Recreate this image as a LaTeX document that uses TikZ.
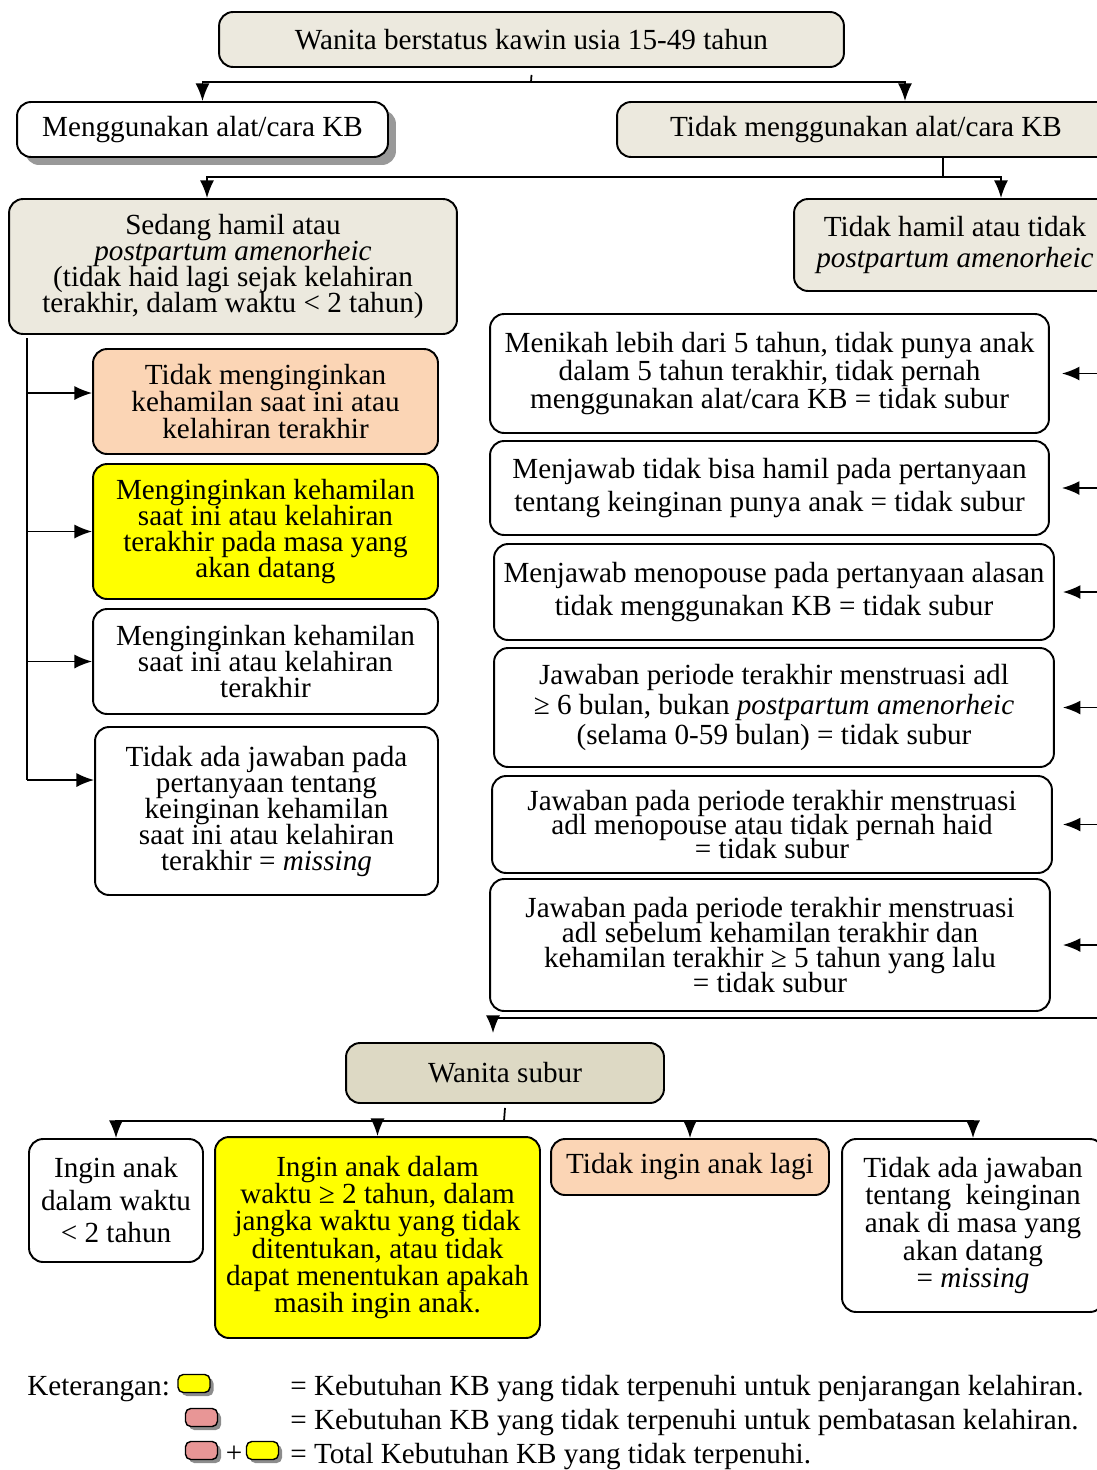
\documentclass[tikz,border=0pt]{standalone}
\usepackage{fontspec}
\setmainfont{Liberation Serif}
\usetikzlibrary{arrows.meta,shadows}
\definecolor{boxgray}{RGB}{236,233,222}
\definecolor{suburgray}{RGB}{221,217,196}
\definecolor{peach}{RGB}{251,213,181}
\definecolor{hiyellow}{RGB}{255,255,0}
\definecolor{legpink}{RGB}{232,150,150}
\newcommand{\fz}[1]{\fontsize{16.6}{#1}\selectfont\lineskiplimit=-20pt\relax}
\tikzstyle{box}=[draw,line width=1.1pt,rounded corners=8pt,align=center,inner sep=0pt]
\tikzstyle{wire}=[draw,line width=1pt]
\tikzstyle{edge}=[wire,->,>={Latex[length=10pt,width=8pt]}]
\tikzstyle{legendbox}=[draw,line width=0.8pt,rounded corners=3pt,minimum width=0.64cm,minimum height=0.36cm,inner sep=0pt,drop shadow={shadow xshift=2pt,shadow yshift=-2pt,fill=black!45,opacity=1}]

\begin{document}
\begin{tikzpicture}[x=0.02cm,y=-0.02cm,font=\fz{14.8}]
      \useasboundingbox (0,0) rectangle (1097,1470);
      \clip (0,0) rectangle (1097,1470);
      \node[box,fill=boxgray,minimum width=12.5cm,minimum height=1.1cm] (top) at (531.5,39.5) {Wanita berstatus kawin usia 15-49 tahun};
      \node[box,fill=white,minimum width=7.42cm,minimum height=1.1cm,drop shadow={shadow xshift=0.16cm,shadow yshift=-0.16cm,fill=black!40,opacity=1}] (use) at (202.5,129.5) {Menggunakan alat/cara KB};
      \node[box,fill=boxgray,minimum width=9.96cm,minimum height=1.1cm] (notuse) at (866,129.5) {Tidak menggunakan alat/cara KB};
      \node[box,fill=boxgray,minimum width=8.96cm,minimum height=2.7cm] (preg) at (233,266.5) {Sedang hamil atau\\ \textit{postpartum amenorheic}\\ (tidak haid lagi sejak kelahiran\\ terakhir, dalam waktu < 2 tahun)};
      \node[box,fill=boxgray,minimum width=6.44cm,minimum height=1.84cm,font=\fz{17.5}] (notpreg) at (955,245) {Tidak hamil atau tidak\\ \textit{postpartum amenorheic}};
      \node[box,fill=peach,minimum width=6.9cm,minimum height=2.1cm,font=\fz{15.3}] (w1) at (265.5,401.5) {Tidak menginginkan\\ kehamilan saat ini atau\\ kelahiran terakhir};
      \node[box,fill=hiyellow,minimum width=6.9cm,minimum height=2.7cm] (w2) at (265.5,531.5) {Menginginkan kehamilan\\ saat ini atau kelahiran\\ terakhir pada masa yang\\ akan datang};
      \node[box,fill=white,minimum width=6.9cm,minimum height=2.1cm] (w3) at (265.5,661.5) {Menginginkan kehamilan\\ saat ini atau kelahiran\\ terakhir};
      \node[box,fill=white,minimum width=6.86cm,minimum height=3.36cm] (w4) at (266.5,811) {Tidak ada jawaban pada\\ pertanyaan tentang\\ keinginan kehamilan\\ saat ini atau kelahiran\\ terakhir = \textit{missing}};
      \node[box,fill=white,minimum width=11.18cm,minimum height=2.38cm,font=\fz{16}] (b1) at (769.5,373.5) {Menikah lebih dari 5 tahun, tidak punya anak\\ dalam 5 tahun terakhir, tidak pernah\\ menggunakan alat/cara KB = tidak subur};
      \node[box,fill=white,minimum width=11.18cm,minimum height=1.88cm,font=\fz{19.3}] (b2) at (769.5,488) {Menjawab tidak bisa hamil pada pertanyaan\\ tentang keinginan punya anak = tidak subur};
      \node[box,fill=white,minimum width=11.2cm,minimum height=1.92cm,font=\fz{19.3}] (b3) at (774,592) {Menjawab menopouse pada pertanyaan alasan\\ tidak menggunakan KB = tidak subur};
      \node[box,fill=white,minimum width=11.2cm,minimum height=2.38cm,font=\fz{17.3}] (b4) at (774,707.5) {Jawaban periode terakhir menstruasi adl\\ ≥ 6 bulan, bukan \textit{postpartum amenorheic}\\ (selama 0-59 bulan) = tidak subur};
      \node[box,fill=white,minimum width=11.2cm,minimum height=1.94cm,font=\fz{13.8}] (b5) at (772,824.5) {Jawaban pada periode terakhir menstruasi\\ adl menopouse atau tidak pernah haid\\ = tidak subur};
      \node[box,fill=white,minimum width=11.2cm,minimum height=2.64cm,font=\fz{14.4}] (b6) at (770,945) {Jawaban pada periode terakhir menstruasi\\ adl sebelum kehamilan terakhir dan\\ kehamilan terakhir ≥ 5 tahun yang lalu\\ = tidak subur};
      \node[box,fill=suburgray,minimum width=6.36cm,minimum height=1.2cm] (subur) at (505,1073) {Wanita subur};
      \node[box,fill=white,minimum width=3.48cm,minimum height=2.46cm,font=\fz{18.5}] (c1) at (116,1200.5) {Ingin anak\\ dalam waktu\\ < 2 tahun};
      \node[box,fill=hiyellow,minimum width=6.5cm,minimum height=4.02cm,font=\fz{15.4}] (c2) at (377.5,1237.5) {Ingin anak dalam\\ waktu ≥ 2 tahun, dalam\\ jangka waktu yang tidak\\ ditentukan, atau tidak\\ dapat menentukan apakah\\ masih ingin anak.};
      \node[box,fill=peach,minimum width=5.56cm,minimum height=1.12cm] (c3) at (690,1167) {Tidak ingin anak lagi};
      \node[box,fill=white,minimum width=5.24cm,minimum height=3.46cm,font=\fz{15.7}] (c4) at (973,1225.5) {Tidak ada jawaban\\ tentang \ keinginan\\ anak di masa yang\\ akan datang\\ = \textit{missing}};
      \coordinate (j1) at (531,82);
      \draw[wire] ([yshift=-0.14cm]top.south) -- (j1);
      \draw[edge] (j1) -| (use.north);
      \draw[edge] (j1) -| ([xshift=0.78cm]notuse.north);
      \coordinate (j2) at (943,177);
      \draw[wire] ([xshift=1.54cm]notuse.south) -- (j2);
      \draw[edge] (j2) -| ([xshift=-0.52cm]preg.north);
      \draw[edge] (j2) -| ([xshift=0.92cm]notpreg.north);
      \coordinate (a1) at ([yshift=0.17cm]w1.west);
      \coordinate (a4) at ([yshift=0.62cm]w4.west);
      \coordinate (lt) at (27,338);
      \draw[wire] (lt) -- (lt |- a4);
      \draw[edge] (lt |- a1) -- (a1);
      \draw[edge] (lt |- w2.west) -- (w2.west);
      \draw[edge] (lt |- w3.west) -- (w3.west);
      \draw[edge] (lt |- a4) -- (a4);
      \coordinate (rt) at (1104,291);
      \coordinate (rb) at (1104,1018);
      \draw[wire] (rt) -- (rb);
      \draw[edge,shorten >=0.24cm] (rt |- b1.east) -- (b1.east);
      \draw[edge,shorten >=0.24cm] (rt |- b2.east) -- (b2.east);
      \draw[edge,shorten >=0.16cm] (rt |- b3.east) -- (b3.east);
      \draw[edge,shorten >=0.16cm] (rt |- b4.east) -- (b4.east);
      \draw[edge,shorten >=0.2cm] (rt |- b5.east) -- (b5.east);
      \draw[edge,shorten >=0.24cm] (rt |- b6.east) -- (b6.east);
      \draw[edge,shorten >=0.18cm] (rb) -| ([xshift=-0.24cm]subur.north);
      \coordinate (j3) at (504,1121);
      \draw[wire] ([yshift=-0.08cm]subur.south) -- (j3);
      \draw[edge] (j3) -| (c1.north);
      \draw[edge] (j3) -| (c2.north);
      \draw[edge] (j3) -| (c3.north);
      \draw[edge] (j3) -| (c4.north);
      \node[anchor=base west,inner sep=0pt] (ket) at (27,1395) {Keterangan:};
      \node[legendbox,fill=hiyellow] (ky1) at (194,1383.5) {};
      \node[legendbox,fill=legpink] (kp1) at (201.5,1417.5) {};
      \node[legendbox,fill=legpink] (kp2) at (201.5,1450.5) {};
      \node[inner sep=0pt] (plus) at (234,1454) {+};
      \node[legendbox,fill=hiyellow] (ky2) at (262.5,1450.5) {};
      \node[anchor=base west,inner sep=0pt] (t1) at (290,1395) {= Kebutuhan KB yang tidak terpenuhi untuk penjarangan kelahiran.};
      \node[anchor=base west,inner sep=0pt] (t2) at (290,1429) {= Kebutuhan KB yang tidak terpenuhi untuk pembatasan kelahiran.};
      \node[anchor=base west,inner sep=0pt] (t3) at (290,1463) {= Total Kebutuhan KB yang tidak terpenuhi.};
    \end{tikzpicture}
\end{document}
